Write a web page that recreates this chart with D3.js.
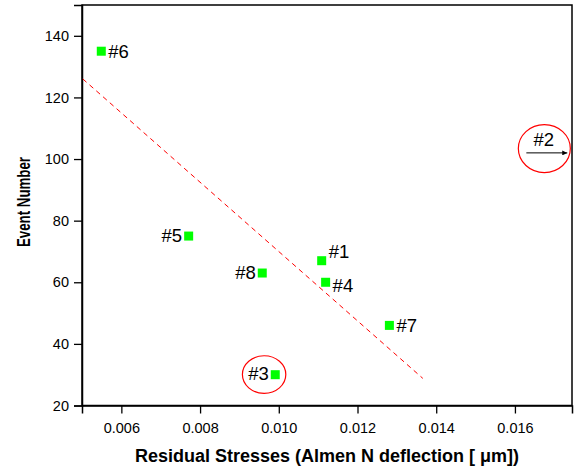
<!DOCTYPE html>
<html>
<head>
<meta charset="utf-8">
<script src="https://cdn.jsdelivr.net/npm/d3@7"></script>
<style>
  body { margin: 0; background: #fff; }
  svg { display: block; font-family: "Liberation Sans", Arial, sans-serif; }
</style>
</head>
<body>
<svg id="chart"></svg>
<script>
const width = 577;
const height = 470;

// events: residual stress vs event number
const names = ["#1", "#3", "#4", "#5", "#6", "#7", "#8"];
const stress = [0.01109, 0.00991, 0.01119, 0.00771, 0.00549, 0.01281, 0.00958];
const events = [67, 30, 60, 75, 135, 46, 63];
const labelSide = ["upright", "left", "downright", "left", "right", "right", "left"];

// event #2 is off the chart, shown with an arrow
const offName = "#2";
const offEvent = 102;
const offArrowX = [0.01629, 0.01733];

// fitted trend line (dashed)
const fitX = [0.00502, 0.01366];
const fitY = [126, 28.8];

// circled outliers: [x, y] centres
const circleX = [0.009627, 0.016747];
const circleY = [30.05, 103.4];

const xTicksMajor = [0.006, 0.008, 0.010, 0.012, 0.014, 0.016];
const xTicksMinor = [0.005, 0.007, 0.009, 0.011, 0.013, 0.015, 0.017];
const yTicksMajor = [20, 40, 60, 80, 100, 120, 140];
const yTicksMinor = [30, 50, 70, 90, 110, 130, 150];

const margin = { top: 5, right: 5, bottom: 64.5, left: 82 };

const svg = d3.select("svg#chart")
  .attr("width", width)
  .attr("height", height);

const x = d3.scaleLinear()
  .domain([0.005, 0.01745])
  .range([margin.left, width - margin.right]);

const y = d3.scaleLinear()
  .domain([20, 150])
  .range([height - margin.bottom, margin.top]);

svg.append("defs").append("marker")
  .attr("id", "arrow")
  .attr("viewBox", "0 0 10 10")
  .attr("refX", 10)
  .attr("refY", 5)
  .attr("markerWidth", 9)
  .attr("markerHeight", 5)
  .attr("markerUnits", "userSpaceOnUse")
  .attr("orient", "auto")
  .append("path")
  .attr("d", "M0,0 L10,5 L0,10 z")
  .attr("fill", "#000");

// frame
svg.append("rect")
  .attr("x", x.range()[0])
  .attr("y", y.range()[1])
  .attr("width", x.range()[1] - x.range()[0])
  .attr("height", y.range()[0] - y.range()[1])
  .attr("fill", "none")
  .attr("stroke", "#000")
  .attr("stroke-width", 1.5);

// x axis
const xAxis = svg.append("g")
  .attr("transform", "translate(0," + y.range()[0] + ")");
xAxis.call(d3.axisBottom(x).tickValues(xTicksMinor).tickSize(5).tickFormat(""));
xAxis.call(d3.axisBottom(x).tickValues(xTicksMajor).tickSize(8).tickPadding(9).tickFormat(d3.format(".3f")));
xAxis.selectAll("path.domain").attr("stroke-width", 1.5);
xAxis.selectAll("line").attr("stroke-width", 1.3);
xAxis.selectAll("text").attr("font-size", 14.5).attr("fill", "#000").attr("font-family", "Liberation Sans, Arial, sans-serif");

// y axis
const yAxis = svg.append("g")
  .attr("transform", "translate(" + x.range()[0] + ",0)");
yAxis.call(d3.axisLeft(y).tickValues(yTicksMinor).tickSize(5).tickFormat(""));
yAxis.call(d3.axisLeft(y).tickValues(yTicksMajor).tickSize(8).tickPadding(5));
yAxis.selectAll("path.domain").attr("stroke-width", 1.5);
yAxis.selectAll("line").attr("stroke-width", 1.3);
yAxis.selectAll("text").attr("font-size", 14.5).attr("fill", "#000").attr("font-family", "Liberation Sans, Arial, sans-serif");

// titles
svg.append("text")
  .attr("x", (x.range()[0] + x.range()[1]) / 2)
  .attr("y", 461.5)
  .attr("text-anchor", "middle")
  .attr("font-size", 18)
  .attr("font-weight", "bold")
  .text("Residual Stresses (Almen N deflection [ μm])");

svg.append("text")
  .attr("transform", "translate(30,202) rotate(-90)")
  .attr("text-anchor", "middle")
  .attr("font-size", 18)
  .attr("font-weight", "bold")
  .attr("textLength", 90)
  .attr("lengthAdjust", "spacingAndGlyphs")
  .text("Event Number");

// trend line
svg.append("line")
  .attr("x1", x(fitX[0]))
  .attr("y1", y(fitY[0]))
  .attr("x2", x(fitX[1]))
  .attr("y2", y(fitY[1]))
  .attr("stroke", "#ff0000")
  .attr("stroke-width", 1)
  .attr("stroke-dasharray", "5,4");

// points
const pts = names.map((n, i) => ({ name: n, x: stress[i], y: events[i], side: labelSide[i] }));

svg.selectAll("rect.pt")
  .data(pts)
  .enter()
  .append("rect")
  .attr("class", "pt")
  .attr("x", d => x(d.x) - 4.5)
  .attr("y", d => y(d.y) - 4.5)
  .attr("width", 9)
  .attr("height", 9)
  .attr("fill", "#00ff00");

const off = {
  right: [7, 6.5, "start"],
  left: [-6.5, 5.5, "end"],
  upright: [7, -3, "start"],
  downright: [7, 9.5, "start"]
};

svg.selectAll("text.lbl")
  .data(pts)
  .enter()
  .append("text")
  .attr("class", "lbl")
  .attr("x", d => x(d.x) + off[d.side][0])
  .attr("y", d => y(d.y) + off[d.side][1])
  .attr("text-anchor", d => off[d.side][2])
  .attr("font-size", 18.5)
  .text(d => d.name);

// #2 arrow
svg.append("line")
  .attr("x1", x(offArrowX[0]))
  .attr("y1", y(offEvent))
  .attr("x2", x(offArrowX[1]))
  .attr("y2", y(offEvent))
  .attr("stroke", "#000")
  .attr("stroke-width", 1)
  .attr("marker-end", "url(#arrow)");

svg.append("text")
  .attr("x", (x(offArrowX[0]) + x(offArrowX[1])) / 2 - 3)
  .attr("y", y(offEvent) - 6.5)
  .attr("text-anchor", "middle")
  .attr("font-size", 18.5)
  .text(offName);

// red circles
const radii = [[21.7, 18.8], [26, 24]];
svg.selectAll("ellipse.mark")
  .data(circleX)
  .enter()
  .append("ellipse")
  .attr("class", "mark")
  .attr("cx", d => x(d))
  .attr("cy", (d, i) => y(circleY[i]))
  .attr("rx", (d, i) => radii[i][0])
  .attr("ry", (d, i) => radii[i][1])
  .attr("fill", "none")
  .attr("stroke", "#ff0000")
  .attr("stroke-width", 1.2);
</script>
</body>
</html>
